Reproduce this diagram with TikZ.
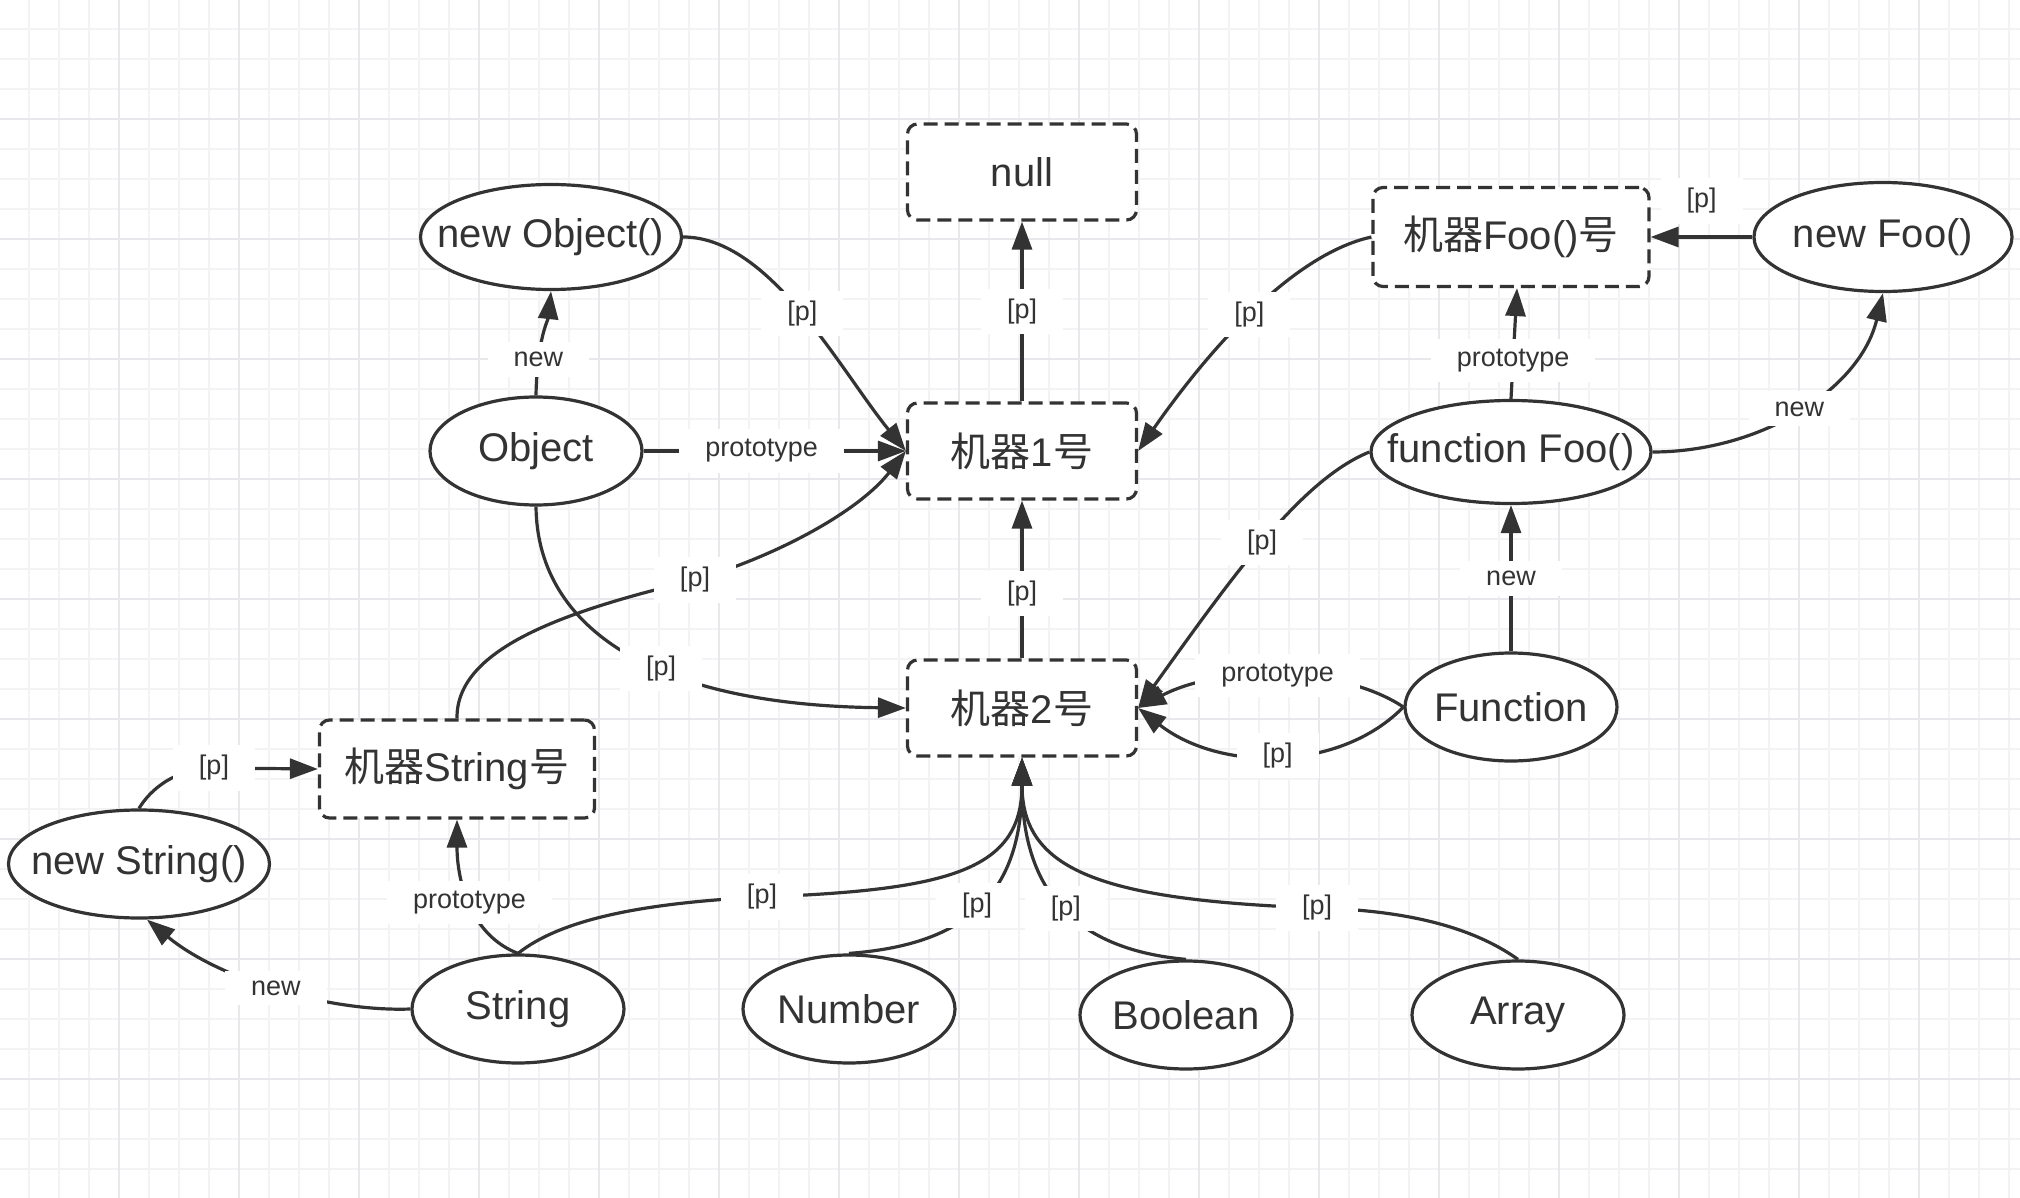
\documentclass[tikz,border=0pt]{standalone}
\usepackage{fontspec}
\setmainfont{Liberation Sans}
\newfontfamily\cjk{Noto Sans CJK SC}
\usetikzlibrary{arrows.meta,shapes.geometric}
\definecolor{ink}{HTML}{333333}
\definecolor{gridlo}{HTML}{F3F3F6}
\definecolor{gridhi}{HTML}{E8E8EC}
\def\jq{{\cjk 机器}}
\def\hao{{\cjk 号}}
\tikzset{
  obj/.style={ellipse, draw=ink, line width=1.6pt, fill=white, text=ink,
    font=\fontsize{20}{24}\selectfont, inner sep=0pt,
    minimum width=106pt, minimum height=54pt,
    execute at begin node={\hbox to 0pt\bgroup\hss},
    execute at end node={\hss\egroup}},
  proto/.style={rectangle, rounded corners=5pt, draw=ink, line width=1.6pt,
    dash pattern=on 7pt off 3.5pt, fill=white, text=ink,
    font=\fontsize{20}{24}\selectfont, minimum width=114.5pt, minimum height=48pt},
  link/.style={draw=ink, line width=1.6pt, -{Triangle[length=14pt,width=10pt]}},
  lbl/.style={fill=white, text=ink, font=\fontsize{13.5}{15}\selectfont,
    inner xsep=13pt, inner ysep=5pt}
}

\begin{document}
\begin{tikzpicture}[x=0.5pt,y=-0.5pt]
\useasboundingbox (0,0) rectangle (2020,1198);
\fill[white] (0,0) rectangle (2020,1198);
%grid
\foreach \gx in {29,59,...,2020}
  \draw[gridlo,line width=1pt] (\gx,0) -- (\gx,1198);
\foreach \gy in {29,59,...,1198}
  \draw[gridlo,line width=1pt] (0,\gy) -- (2020,\gy);
\foreach \gx in {119,239,...,2020}
  \draw[gridhi,line width=1pt] (\gx,0) -- (\gx,1198);
\foreach \gy in {119,239,...,1198}
  \draw[gridhi,line width=1pt] (0,\gy) -- (2020,\gy);
%machines
\node[proto] (null) at (1022,172) {null};
\node[proto] (m1) at (1022,451) {\jq 1\hao};
\node[proto] (m2) at (1022,708) {\jq 2\hao};
\node[proto,minimum width=138pt,minimum height=49.5pt] (mfoo) at (1511,237) {\jq Foo()\hao};
\node[proto,minimum width=137.5pt,minimum height=49pt] (mstr) at (457,769) {\jq String\hao};
%objects
\node[obj,minimum width=130.5pt,minimum height=52.5pt] (newobj) at (551,237) {new Object()};
\node[obj] (object) at (536,451) {Object};
\node[obj,minimum width=129pt,minimum height=54.5pt] (newfoo) at (1883,237) {new Foo()};
\node[obj,minimum width=140pt,minimum height=51.5pt] (funcfoo) at (1511,452) {function Foo()};
\node[obj] (function) at (1511,707) {Function};
\node[obj,minimum width=130.5pt] (newstr) at (139,864) {new String()};
\node[obj] (string) at (518,1009) {String};
\node[obj] (number) at (849,1009) {Number};
\node[obj] (boolean) at (1186,1015) {Boolean};
\node[obj] (array) at (1518,1015) {Array};
%top
\draw[link] (m1.north) -- node[lbl] (l1) {[p]} (null.south);
\draw[link] (newobj.east) .. controls (770,237) and (840,370) .. node[lbl] (l2) {[p]} (m1.west);
\draw[link] (object.north) .. controls (537,340) and (548,320) .. node[lbl,pos=0.25] (l3) {new} (newobj.south);
\draw[link] (object.east) -- node[lbl,pos=0.45] (l4) {prototype} (m1.west);
\draw[link] (mfoo.west) .. controls (1290,255) and (1205,355) .. node[lbl] (l5) {[p]} (m1.east);
\draw[link] (newfoo.west) -- node[lbl,yshift=18pt] (l6) {[p]} (mfoo.east);
\draw[link] (funcfoo.north) -- node[lbl,pos=0.35] (l7) {prototype} ([xshift=3pt]mfoo.south);
\draw[link] (funcfoo.east) .. controls (1760,452) and (1860,390) .. node[lbl] (l8) {new} (newfoo.south);
%middle
\draw[link] (m2.north) -- node[lbl,pos=0.41] (l9) {[p]} (m1.south);
\draw[link] (object.south) .. controls (537,620) and (640,705) .. node[lbl,pos=0.6] (l10) {[p]} (m2.west);
\draw[link] (mstr.north) .. controls (456,650) and (560,612) .. (695,580) node[lbl] (l11) {[p]}
  .. controls (780,555) and (860,510) .. (m1.west);
\draw[link] (funcfoo.west) .. controls (1300,480) and (1230,580) .. node[lbl] (l12) {[p]} (m2.east);
\draw[link] (function.north) -- node[lbl] (l13) {new} (funcfoo.south);
\draw[link] (function.west) .. controls (1340,665) and (1220,665) .. node[lbl] (l14) {prototype} (m2.east);
\draw[link] (function.west) .. controls (1340,772) and (1220,772) .. node[lbl] (l15) {[p]} (m2.east);
%String
\draw[link] (newstr.north) .. controls (150,790) and (175,768) .. (214,768) node[lbl] (l16) {[p]} -- (mstr.west);
\draw[link] (string.north) .. controls (470,935) and (457,880) .. node[lbl] (l17) {prototype} (mstr.south);
\draw[link] (string.west) .. controls (330,1012) and (220,980) .. node[lbl] (l18) {new} ([xshift=4pt]newstr.south);
%bottom
\draw[link] (string.north) .. controls (560,920) and (640,903) .. (762,897) node[lbl] (l19) {[p]}
  .. controls (950,890) and (1022,870) .. (m2.south);
\draw[link] (number.north) .. controls (960,945) and (1022,900) .. node[lbl] (l20) {[p]} (m2.south);
\draw[link] (boolean.north) .. controls (1084,950) and (1022,900) .. node[lbl] (l21) {[p]} (m2.south);
\draw[link] (array.north) .. controls (1470,925) and (1400,910) .. (1317,908) node[lbl] (l22) {[p]}
  .. controls (1100,900) and (1022,870) .. (m2.south);
\end{tikzpicture}
\end{document}
